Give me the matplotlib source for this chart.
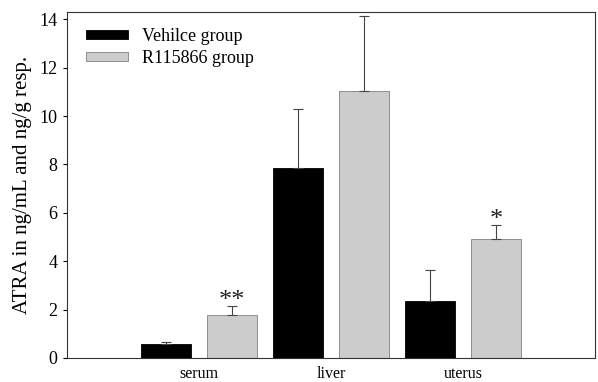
import matplotlib
matplotlib.use("Agg")
import matplotlib.pyplot as plt
import numpy as np

categories = ["serum", "liver", "uterus"]
vehicle = [0.58, 7.84, 2.34]
vehicle_err = [0.07, 2.45, 1.28]
r115866 = [1.76, 11.05, 4.93]
r115866_err = [0.40, 3.08, 0.57]
stars = ["**", "", "*"]
series_names = ["Vehilce group", "R115866 group"]

plt.rcParams['font.family'] = ['Liberation Serif', 'DejaVu Serif']

fig = plt.figure(figsize=(5.98, 3.82), dpi=100)
ax = fig.add_axes([67/598, 1-358/382, (595-67)/598, (358-12)/382])

x = np.arange(len(categories))
w = 0.385
off = 0.25
ax.bar(x - off, vehicle, w, color="black", edgecolor="black", linewidth=0.6,
       label=series_names[0], zorder=2)
ax.bar(x + off, r115866, w, color="#cccccc", edgecolor="#808080", linewidth=0.6,
       label=series_names[1], zorder=2)
ax.errorbar(x - off, vehicle, yerr=[np.zeros(3), vehicle_err], fmt="none",
            ecolor="#444444", elinewidth=0.8, capsize=3.5, capthick=0.8, zorder=3)
ax.errorbar(x + off, r115866, yerr=[np.zeros(3), r115866_err], fmt="none",
            ecolor="#444444", elinewidth=0.8, capsize=3.5, capthick=0.8, zorder=3)

for xi, v, e, s in zip(x, r115866, r115866_err, stars):
    if s:
        ax.text(xi + off, v + e - 0.25, s, ha="center", va="bottom", fontsize=19,
                color="#222222")

ax.set_xlim(-1, 3)
ax.set_ylim(0, 14.3)
ax.set_yticks(np.arange(0, 15, 2))
ax.set_xticks(x)
ax.set_xticklabels(categories, fontsize=11.5)
ax.tick_params(axis="x", length=0, pad=6)
ax.tick_params(axis="y", direction="out", length=3, width=0.8, labelsize=13, pad=4)
ax.set_ylabel("ATRA in ng/mL and ng/g resp.", fontsize=15, labelpad=5)
for sp in ax.spines.values():
    sp.set_linewidth(0.8)
    sp.set_color("#333333")

leg = ax.legend(loc="upper left", frameon=False, fontsize=13,
                handlelength=2.35, handleheight=0.4, handletextpad=0.75,
                labelspacing=0.25, bbox_to_anchor=(0.015, 0.985), borderaxespad=0.2)

fig.savefig("out.png", dpi=100)
